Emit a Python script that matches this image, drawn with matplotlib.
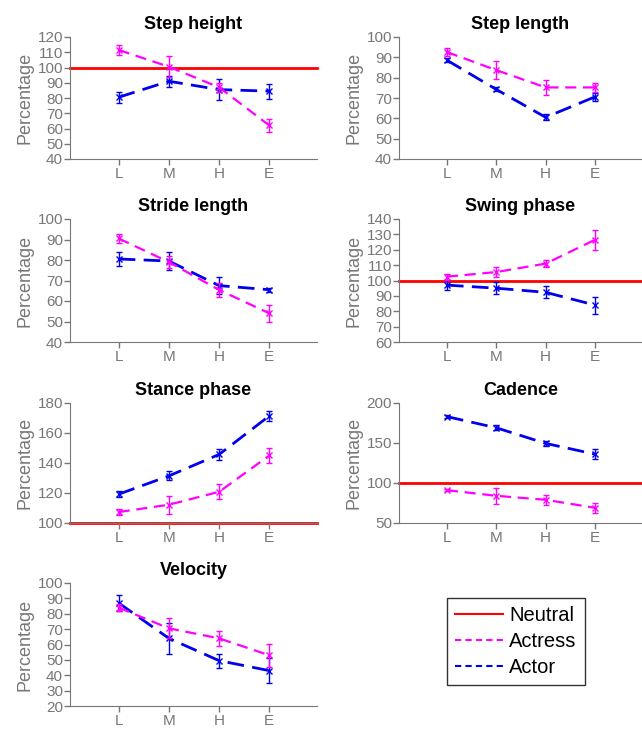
import matplotlib
matplotlib.use('Agg')
import matplotlib.pyplot as plt
from matplotlib.lines import Line2D

plt.rcParams['font.family'] = ['Liberation Sans', 'DejaVu Sans']

levels = ['L', 'M', 'H', 'E']

titles = ['Step height', 'Step length', 'Stride length', 'Swing phase',
          'Stance phase', 'Cadence', 'Velocity']

actress = [
    [111.5, 100.5, 87, 62],
    [92.6, 83.7, 75.2, 75.2],
    [90.5, 79, 65.4, 54],
    [102.5, 105.5, 111, 126.5],
    [107.3, 112.2, 120.8, 145],
    [91, 84, 79, 69],
    [84, 70.5, 64, 53],
]
actress_err = [
    [3, 7, 3, 4.5],
    [2, 4.3, 3.8, 2.4],
    [2.3, 3, 3.5, 4],
    [2, 3.5, 2.5, 6.5],
    [2, 6, 5, 5],
    [1.5, 10, 6, 6],
    [2.5, 6.5, 5, 7.5],
]
actor = [
    [80.5, 91, 85.5, 84.5],
    [88.6, 74.2, 60.5, 70.6],
    [80.5, 79.5, 67.5, 65.5],
    [97, 95, 92.3, 84],
    [119.2, 131.4, 145.7, 171.4],
    [183, 169, 149.5, 136],
    [87, 64, 49.5, 43],
]
actor_err = [
    [3.5, 3.5, 7, 5],
    [1, 1, 1.5, 2],
    [3.5, 4.6, 4, 1],
    [3.5, 4, 4, 5.5],
    [2, 3, 3.5, 3.5],
    [1.5, 3, 3, 6],
    [5, 10, 4.5, 8],
]
ylims = [(40, 120), (40, 100), (40, 100), (60, 140), (100, 180), (50, 200), (20, 100)]
ysteps = [10, 10, 10, 10, 20, 50, 10]
has_neutral = [True, False, False, True, True, True, False]
neutral = 100

W, H = 642, 729
fig = plt.figure(figsize=(W / 100, H / 100), dpi=100)

cols = [(70, 317), (399, 642)]
rows = [(37, 159), (219, 342), (403, 523), (583, 706)]

grey = '#777777'
for i, title in enumerate(titles):
    x0, x1 = cols[i % 2]
    top, bot = rows[i // 2]
    ax = fig.add_axes([x0 / W, 1 - bot / H, (x1 - x0) / W, (bot - top) / H])
    xs = [1, 2, 3, 4]
    if has_neutral[i]:
        ax.axhline(neutral, color='red', lw=2, zorder=1, clip_on=False)
    ax.errorbar(xs, actress[i], yerr=actress_err[i], color='#ff00ff', lw=1.6,
                ls=(0, (5, 3)), marker='x', ms=4, mew=1, capsize=2.5,
                elinewidth=1, zorder=3)
    ax.errorbar(xs, actor[i], yerr=actor_err[i], color='#0000ee', lw=2,
                ls=(0, (6, 3)), marker='x', ms=4, mew=1, capsize=2.5,
                elinewidth=1, zorder=2)
    lo, hi = ylims[i]
    ax.set_ylim(lo, hi)
    ax.set_yticks(range(lo, hi + 1, ysteps[i]))
    ax.set_xlim(0.03, 4.95)
    ax.set_xticks(xs)
    ax.set_xticklabels(levels)
    ax.set_title(title, fontsize=13, fontweight='bold', pad=6)
    ax.set_ylabel('Percentage', fontsize=13, color=grey, labelpad=3)
    for s in ['top', 'right']:
        ax.spines[s].set_visible(False)
    for s in ['left', 'bottom']:
        ax.spines[s].set_color(grey)
    ax.tick_params(colors=grey, labelsize=11, length=4, width=1, pad=1)
    ax.tick_params(axis='x', pad=2)

handles = [
    Line2D([], [], color='red', lw=1.5),
    Line2D([], [], color='#ff00ff', lw=1.5, ls=(0, (3, 2))),
    Line2D([], [], color='#0000ee', lw=1.5, ls=(0, (3, 2))),
]
leg = fig.legend(handles, ['Neutral', 'Actress', 'Actor'],
                 loc='upper left', bbox_to_anchor=(447 / W, 1 - 598 / H),
                 fontsize=14.5, frameon=True, fancybox=False, edgecolor='black',
                 handlelength=2.4, handletextpad=0.3, labelspacing=0.35,
                 borderpad=0.4, borderaxespad=0)
leg.get_frame().set_linewidth(1)

fig.savefig('out.png', dpi=100)
